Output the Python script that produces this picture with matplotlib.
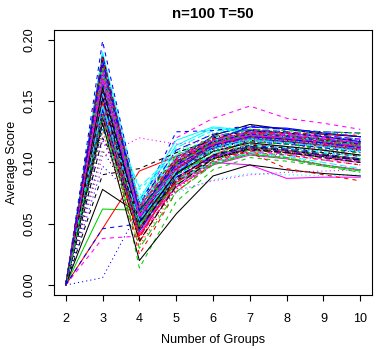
import matplotlib
matplotlib.use("Agg")
import matplotlib.pyplot as plt

# number of groups on the x axis
groups = [2, 3, 4, 5, 6, 7, 8, 9, 10]

# average score per run (one row per run)
runs_a = [
    [0.0, 0.150, 0.055, 0.098, 0.122, 0.131, 0.127, 0.123, 0.121],
    [0.0, 0.172, 0.048, 0.084, 0.101, 0.110, 0.108, 0.104, 0.100],
    [0.0, 0.186, 0.062, 0.108, 0.124, 0.127, 0.125, 0.124, 0.123],
    [0.0, 0.160, 0.050, 0.094, 0.114, 0.121, 0.119, 0.115, 0.112],
    [0.0, 0.178, 0.058, 0.112, 0.126, 0.126, 0.123, 0.121, 0.118],
    [0.0, 0.140, 0.045, 0.080, 0.098, 0.106, 0.103, 0.098, 0.094],
    [0.0, 0.120, 0.070, 0.103, 0.117, 0.122, 0.120, 0.118, 0.116],
    [0.0, 0.155, 0.040, 0.078, 0.100, 0.109, 0.104, 0.098, 0.094],
    [0.0, 0.168, 0.053, 0.096, 0.113, 0.120, 0.118, 0.114, 0.111],
    [0.0, 0.175, 0.065, 0.110, 0.123, 0.129, 0.127, 0.125, 0.124],
    [0.0, 0.190, 0.068, 0.114, 0.128, 0.125, 0.122, 0.119, 0.116],
    [0.0, 0.145, 0.060, 0.120, 0.136, 0.146, 0.136, 0.132, 0.127],
    [0.0, 0.130, 0.058, 0.088, 0.104, 0.111, 0.108, 0.105, 0.101],
    [0.0, 0.162, 0.043, 0.092, 0.112, 0.120, 0.118, 0.115, 0.111],
    [0.0, 0.183, 0.056, 0.090, 0.106, 0.113, 0.110, 0.106, 0.102],
    [0.0, 0.170, 0.047, 0.097, 0.116, 0.124, 0.122, 0.119, 0.116],
    [0.0, 0.158, 0.078, 0.106, 0.118, 0.121, 0.118, 0.115, 0.112],
    [0.0, 0.105, 0.120, 0.115, 0.118, 0.120, 0.117, 0.113, 0.110],
    [0.0, 0.142, 0.050, 0.086, 0.103, 0.110, 0.108, 0.105, 0.102],
    [0.0, 0.135, 0.038, 0.090, 0.111, 0.119, 0.117, 0.114, 0.110],
]
runs_b = [
    [0.0, 0.062, 0.061, 0.092, 0.106, 0.113, 0.110, 0.106, 0.103],
    [0.0, 0.199, 0.064, 0.125, 0.126, 0.130, 0.127, 0.124, 0.121],
    [0.0, 0.176, 0.060, 0.099, 0.115, 0.121, 0.119, 0.116, 0.113],
    [0.0, 0.152, 0.046, 0.082, 0.100, 0.108, 0.106, 0.102, 0.098],
    [0.0, 0.166, 0.052, 0.100, 0.117, 0.124, 0.121, 0.119, 0.115],
    [0.0, 0.046, 0.093, 0.105, 0.115, 0.119, 0.116, 0.113, 0.110],
    [0.0, 0.155, 0.014, 0.068, 0.094, 0.104, 0.101, 0.097, 0.094],
    [0.0, 0.006, 0.062, 0.090, 0.106, 0.114, 0.112, 0.109, 0.106],
    [0.0, 0.185, 0.066, 0.105, 0.120, 0.126, 0.124, 0.121, 0.118],
    [0.0, 0.160, 0.044, 0.085, 0.104, 0.112, 0.109, 0.105, 0.101],
    [0.0, 0.078, 0.058, 0.100, 0.116, 0.122, 0.119, 0.116, 0.113],
    [0.0, 0.140, 0.025, 0.076, 0.099, 0.108, 0.106, 0.102, 0.098],
    [0.0, 0.171, 0.054, 0.101, 0.118, 0.125, 0.122, 0.119, 0.116],
    [0.0, 0.128, 0.056, 0.088, 0.104, 0.111, 0.109, 0.105, 0.102],
    [0.0, 0.150, 0.080, 0.108, 0.119, 0.123, 0.120, 0.117, 0.114],
    [0.0, 0.138, 0.042, 0.084, 0.100, 0.098, 0.087, 0.088, 0.088],
    [0.0, 0.090, 0.095, 0.108, 0.118, 0.123, 0.120, 0.117, 0.114],
    [0.0, 0.180, 0.052, 0.097, 0.114, 0.121, 0.119, 0.116, 0.112],
    [0.0, 0.145, 0.049, 0.085, 0.102, 0.110, 0.107, 0.104, 0.100],
    [0.0, 0.188, 0.059, 0.104, 0.121, 0.127, 0.125, 0.122, 0.119],
]
runs_c = [
    [0.0, 0.168, 0.070, 0.118, 0.129, 0.126, 0.123, 0.120, 0.117],
    [0.0, 0.038, 0.040, 0.080, 0.100, 0.109, 0.107, 0.103, 0.100],
    [0.0, 0.158, 0.048, 0.094, 0.112, 0.119, 0.117, 0.114, 0.110],
    [0.0, 0.173, 0.057, 0.102, 0.119, 0.125, 0.123, 0.120, 0.117],
    [0.0, 0.135, 0.030, 0.076, 0.098, 0.107, 0.103, 0.097, 0.092],
    [0.0, 0.182, 0.053, 0.095, 0.113, 0.126, 0.124, 0.121, 0.117],
    [0.0, 0.164, 0.061, 0.092, 0.108, 0.114, 0.112, 0.108, 0.105],
    [0.0, 0.120, 0.050, 0.077, 0.085, 0.090, 0.092, 0.093, 0.094],
    [0.0, 0.176, 0.055, 0.103, 0.120, 0.126, 0.124, 0.121, 0.118],
    [0.0, 0.148, 0.035, 0.083, 0.106, 0.115, 0.113, 0.110, 0.106],
    [0.0, 0.184, 0.051, 0.094, 0.112, 0.120, 0.118, 0.115, 0.112],
    [0.0, 0.046, 0.050, 0.096, 0.112, 0.119, 0.117, 0.114, 0.110],
    [0.0, 0.130, 0.045, 0.075, 0.086, 0.091, 0.090, 0.089, 0.090],
    [0.0, 0.170, 0.058, 0.104, 0.121, 0.127, 0.124, 0.121, 0.119],
    [0.0, 0.154, 0.047, 0.085, 0.103, 0.111, 0.108, 0.104, 0.100],
    [0.0, 0.142, 0.040, 0.086, 0.106, 0.118, 0.117, 0.114, 0.111],
    [0.0, 0.178, 0.063, 0.106, 0.121, 0.127, 0.126, 0.125, 0.124],
    [0.0, 0.097, 0.068, 0.094, 0.110, 0.117, 0.115, 0.112, 0.109],
    [0.0, 0.188, 0.057, 0.097, 0.114, 0.120, 0.118, 0.115, 0.112],
    [0.0, 0.146, 0.051, 0.088, 0.105, 0.112, 0.110, 0.106, 0.103],
]
runs_d = [
    [0.0, 0.132, 0.020, 0.058, 0.089, 0.098, 0.094, 0.091, 0.089],
    [0.0, 0.162, 0.054, 0.093, 0.105, 0.108, 0.095, 0.090, 0.085],
    [0.0, 0.150, 0.065, 0.100, 0.116, 0.122, 0.119, 0.116, 0.113],
    [0.0, 0.174, 0.049, 0.092, 0.111, 0.119, 0.117, 0.113, 0.110],
    [0.0, 0.180, 0.064, 0.086, 0.100, 0.108, 0.105, 0.100, 0.095],
    [0.0, 0.156, 0.046, 0.094, 0.114, 0.122, 0.120, 0.117, 0.113],
    [0.0, 0.187, 0.060, 0.100, 0.117, 0.124, 0.121, 0.118, 0.115],
    [0.0, 0.125, 0.032, 0.079, 0.101, 0.111, 0.109, 0.106, 0.103],
    [0.0, 0.177, 0.062, 0.101, 0.117, 0.123, 0.121, 0.118, 0.115],
    [0.0, 0.152, 0.054, 0.088, 0.105, 0.113, 0.111, 0.107, 0.103],
    [0.0, 0.144, 0.047, 0.096, 0.113, 0.119, 0.116, 0.113, 0.110],
    [0.0, 0.166, 0.055, 0.100, 0.118, 0.125, 0.123, 0.120, 0.116],
    [0.0, 0.110, 0.062, 0.095, 0.111, 0.118, 0.116, 0.113, 0.110],
    [0.0, 0.186, 0.059, 0.099, 0.116, 0.122, 0.120, 0.117, 0.114],
    [0.0, 0.163, 0.050, 0.082, 0.099, 0.107, 0.104, 0.098, 0.093],
    [0.0, 0.143, 0.044, 0.090, 0.118, 0.129, 0.128, 0.124, 0.121],
    [0.0, 0.172, 0.066, 0.103, 0.118, 0.124, 0.121, 0.118, 0.115],
    [0.0, 0.134, 0.053, 0.093, 0.111, 0.119, 0.116, 0.113, 0.110],
    [0.0, 0.158, 0.048, 0.090, 0.109, 0.117, 0.115, 0.111, 0.108],
    [0.0, 0.181, 0.061, 0.100, 0.116, 0.122, 0.120, 0.117, 0.114],
]
runs_e = [
    [0.0, 0.176, 0.059, 0.098, 0.115, 0.121, 0.119, 0.116, 0.113],
    [0.0, 0.165, 0.052, 0.091, 0.109, 0.117, 0.115, 0.112, 0.108],
    [0.0, 0.140, 0.073, 0.104, 0.117, 0.122, 0.120, 0.117, 0.114],
    [0.0, 0.181, 0.057, 0.097, 0.113, 0.120, 0.118, 0.115, 0.111],
    [0.0, 0.137, 0.036, 0.081, 0.103, 0.112, 0.110, 0.106, 0.102],
    [0.0, 0.149, 0.046, 0.095, 0.114, 0.121, 0.119, 0.116, 0.113],
    [0.0, 0.169, 0.060, 0.099, 0.116, 0.123, 0.121, 0.118, 0.114],
    [0.0, 0.118, 0.058, 0.096, 0.113, 0.120, 0.118, 0.115, 0.112],
    [0.0, 0.157, 0.049, 0.089, 0.107, 0.115, 0.113, 0.109, 0.106],
    [0.0, 0.174, 0.064, 0.102, 0.118, 0.124, 0.122, 0.119, 0.116],
    [0.0, 0.161, 0.051, 0.091, 0.109, 0.116, 0.113, 0.110, 0.106],
    [0.0, 0.184, 0.063, 0.103, 0.119, 0.125, 0.124, 0.123, 0.122],
    [0.0, 0.127, 0.044, 0.083, 0.103, 0.112, 0.110, 0.107, 0.103],
    [0.0, 0.179, 0.060, 0.101, 0.117, 0.123, 0.121, 0.118, 0.115],
    [0.0, 0.147, 0.053, 0.093, 0.111, 0.118, 0.116, 0.113, 0.109],
    [0.0, 0.168, 0.056, 0.097, 0.115, 0.122, 0.120, 0.116, 0.113],
    [0.0, 0.153, 0.046, 0.087, 0.106, 0.114, 0.112, 0.108, 0.105],
    [0.0, 0.171, 0.067, 0.104, 0.119, 0.124, 0.122, 0.119, 0.116],
    [0.0, 0.139, 0.048, 0.090, 0.109, 0.117, 0.115, 0.111, 0.108],
    [0.0, 0.183, 0.061, 0.098, 0.114, 0.121, 0.119, 0.116, 0.112],
]

# R matplot style cycling: col = 1:6, lty = 1:5
colours = ["black", "#FF0000", "#00CD00", "#0000FF", "#00FFFF", "#FF00FF"]
dashes = ["-", (0, (3, 3)), (0, (0.8, 2.2)), (0, (0.8, 2.2, 3, 2.2)), (0, (5.2, 2.2))]

plt.rcParams["font.family"] = ["Liberation Sans", "DejaVu Sans"]
plt.rcParams["lines.scale_dashes"] = False

fig = plt.figure(figsize=(3.88, 3.49), dpi=100)
ax = fig.add_axes([0.139, 0.155, 0.82, 0.759])

all_runs = runs_a + runs_b + runs_c + runs_d + runs_e
for i, run in enumerate(all_runs):
    ax.plot(groups, run, color=colours[i % 6], linestyle=dashes[i % 5], linewidth=0.75)

ax.set_xlim(1.68, 10.32)
ax.set_ylim(-0.008, 0.208)
ax.set_xticks(groups)
ax.set_yticks([0.0, 0.05, 0.10, 0.15, 0.20])
ax.set_yticklabels(["0.00", "0.05", "0.10", "0.15", "0.20"], rotation=90, va="center")
ax.tick_params(direction="out", length=4.3, width=0.8, labelsize=9.1, pad=9)
for s in ax.spines.values():
    s.set_linewidth(0.8)

ax.set_xlabel("Number of Groups", fontsize=9.1, labelpad=6)
ax.set_ylabel("Average Score", fontsize=9.1, labelpad=4)
ax.set_title("n=100 T=50", fontsize=10.8, fontweight="bold", pad=9)

fig.savefig("out.png", dpi=100)
